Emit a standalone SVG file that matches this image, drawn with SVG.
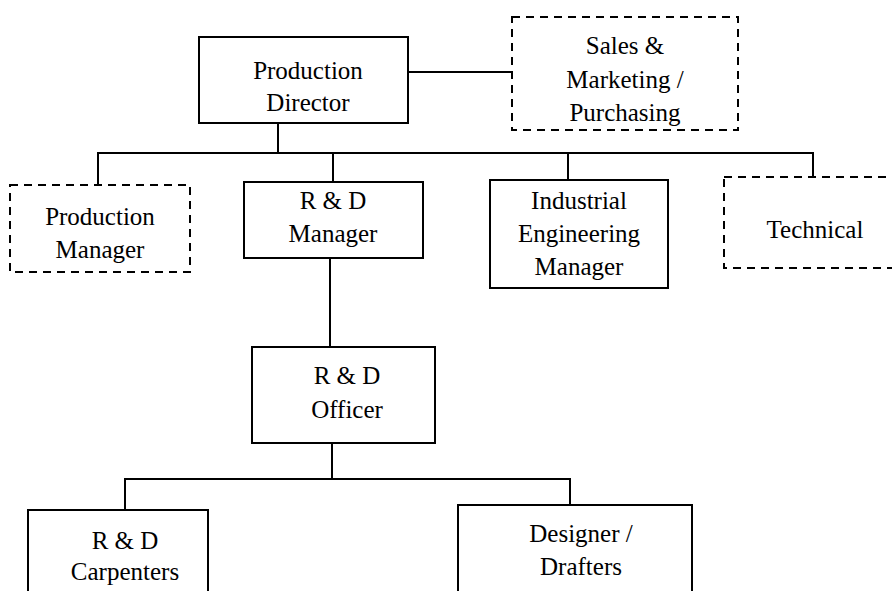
<svg xmlns="http://www.w3.org/2000/svg" width="892" height="591" viewBox="0 0 892 591">
<style>
.box{fill:#fff;stroke:#000;stroke-width:2}
.dash{fill:#fff;stroke:#000;stroke-width:2;stroke-dasharray:8 6}
.c{stroke:#000;stroke-width:2;fill:none}
</style>
<rect width="892" height="591" fill="#fff"/>
<g id="connectors">
<line class="c" x1="408" y1="72" x2="512" y2="72"/>
<line class="c" x1="278" y1="123" x2="278" y2="153"/>
<line class="c" x1="97" y1="153" x2="814" y2="153"/>
<line class="c" x1="98" y1="153" x2="98" y2="185"/>
<line class="c" x1="333" y1="153" x2="333" y2="182"/>
<line class="c" x1="568" y1="153" x2="568" y2="180"/>
<line class="c" x1="813" y1="153" x2="813" y2="177"/>
<line class="c" x1="330" y1="258" x2="330" y2="347"/>
<line class="c" x1="332" y1="443" x2="332" y2="479"/>
<line class="c" x1="124" y1="479" x2="571" y2="479"/>
<line class="c" x1="125" y1="479" x2="125" y2="510"/>
<line class="c" x1="570" y1="479" x2="570" y2="505"/>
</g>
<g id="production-director">
<rect class="box" x="199" y="37" width="209" height="86"/>
<text x="308" y="79" font-family="Liberation Serif" font-size="25" text-anchor="middle">Production</text>
<text x="308" y="111" font-family="Liberation Serif" font-size="25" text-anchor="middle">Director</text>
</g>
<g id="sales-marketing">
<rect class="dash" x="512" y="17" width="226" height="113"/>
<text x="625" y="54" font-family="Liberation Serif" font-size="25" text-anchor="middle">Sales &amp;</text>
<text x="625" y="88" font-family="Liberation Serif" font-size="25" text-anchor="middle">Marketing /</text>
<text x="625" y="121" font-family="Liberation Serif" font-size="25" text-anchor="middle">Purchasing</text>
</g>
<g id="production-manager">
<rect class="dash" x="10" y="185" width="180" height="87"/>
<text x="100" y="225" font-family="Liberation Serif" font-size="25" text-anchor="middle">Production</text>
<text x="100" y="258" font-family="Liberation Serif" font-size="25" text-anchor="middle">Manager</text>
</g>
<g id="rd-manager">
<rect class="box" x="244" y="182" width="179" height="76"/>
<text x="333" y="209" font-family="Liberation Serif" font-size="25" text-anchor="middle">R &amp; D</text>
<text x="333" y="242" font-family="Liberation Serif" font-size="25" text-anchor="middle">Manager</text>
</g>
<g id="ie-manager">
<rect class="box" x="490" y="180" width="178" height="108"/>
<text x="579" y="209" font-family="Liberation Serif" font-size="25" text-anchor="middle">Industrial</text>
<text x="579" y="242" font-family="Liberation Serif" font-size="25" text-anchor="middle">Engineering</text>
<text x="579" y="275" font-family="Liberation Serif" font-size="25" text-anchor="middle">Manager</text>
</g>
<g id="technical">
<rect class="dash" x="724" y="177" width="180" height="91"/>
<text x="815" y="238" font-family="Liberation Serif" font-size="25" text-anchor="middle">Technical</text>
</g>
<g id="rd-officer">
<rect class="box" x="252" y="347" width="183" height="96"/>
<text x="347" y="384" font-family="Liberation Serif" font-size="25" text-anchor="middle">R &amp; D</text>
<text x="347" y="418" font-family="Liberation Serif" font-size="25" text-anchor="middle">Officer</text>
</g>
<g id="rd-carpenters">
<rect class="box" x="28" y="510" width="180" height="95"/>
<text x="125" y="549" font-family="Liberation Serif" font-size="25" text-anchor="middle">R &amp; D</text>
<text x="125" y="580" font-family="Liberation Serif" font-size="25" text-anchor="middle">Carpenters</text>
</g>
<g id="designer-drafters">
<rect class="box" x="458" y="505" width="234" height="100"/>
<text x="581" y="542" font-family="Liberation Serif" font-size="25" text-anchor="middle">Designer /</text>
<text x="581" y="575" font-family="Liberation Serif" font-size="25" text-anchor="middle">Drafters</text>
</g>
</svg>
